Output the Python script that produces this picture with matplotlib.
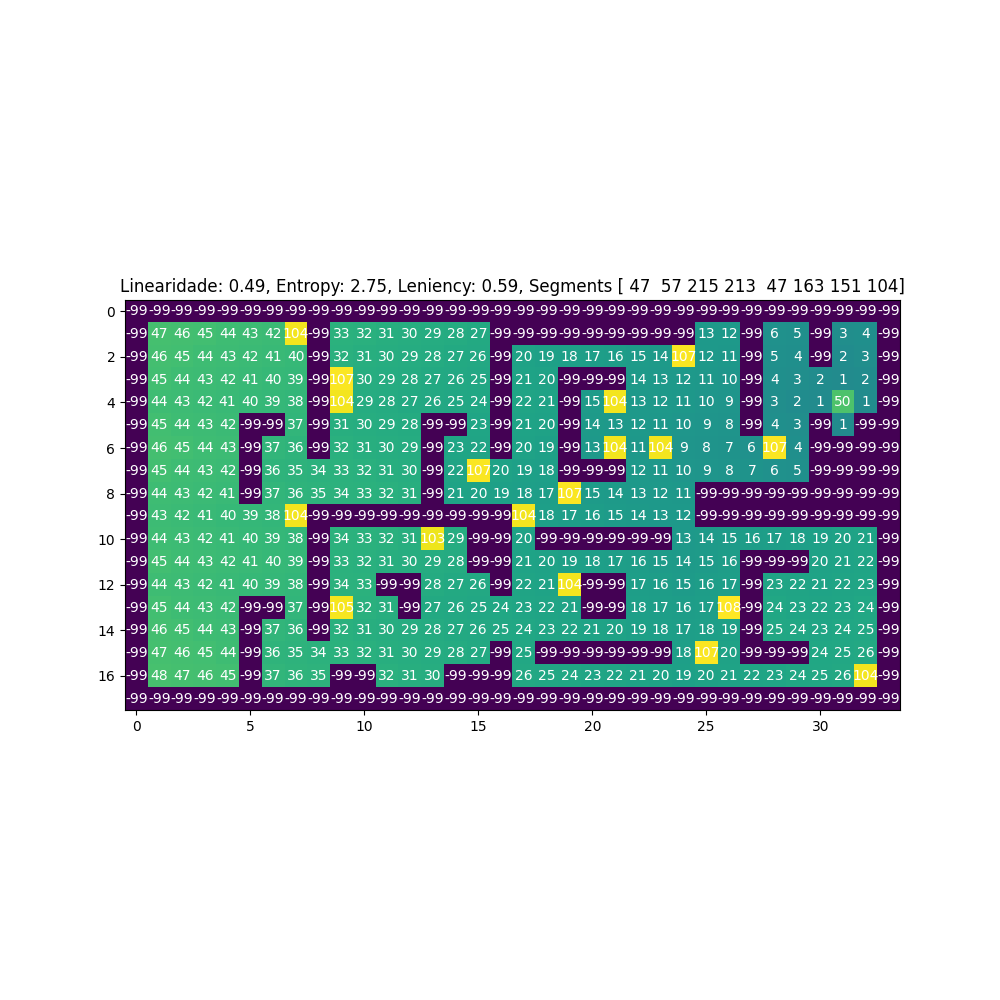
import numpy as np
import matplotlib
matplotlib.use("Agg")
import matplotlib.pyplot as plt

W = -99
row0 = [W] * 34
row1 = [W, 47, 46, 45, 44, 43, 42, 104, W, 33, 32, 31, 30, 29, 28, 27, W, W, W, W, W, W, W, W, W, 13, 12, W, 6, 5, W, 3, 4, W]
row2 = [W, 46, 45, 44, 43, 42, 41, 40, W, 32, 31, 30, 29, 28, 27, 26, W, 20, 19, 18, 17, 16, 15, 14, 107, 12, 11, W, 5, 4, W, 2, 3, W]
row3 = [W, 45, 44, 43, 42, 41, 40, 39, W, 107, 30, 29, 28, 27, 26, 25, W, 21, 20, W, W, W, 14, 13, 12, 11, 10, W, 4, 3, 2, 1, 2, W]
row4 = [W, 44, 43, 42, 41, 40, 39, 38, W, 104, 29, 28, 27, 26, 25, 24, W, 22, 21, W, 15, 104, 13, 12, 11, 10, 9, W, 3, 2, 1, 50, 1, W]
row5 = [W, 45, 44, 43, 42, W, W, 37, W, 31, 30, 29, 28, W, W, 23, W, 21, 20, W, 14, 13, 12, 11, 10, 9, 8, W, 4, 3, W, 1, W, W]
row6 = [W, 46, 45, 44, 43, W, 37, 36, W, 32, 31, 30, 29, W, 23, 22, W, 20, 19, W, 13, 104, 11, 104, 9, 8, 7, 6, 107, 4, W, W, W, W]
row7 = [W, 45, 44, 43, 42, W, 36, 35, 34, 33, 32, 31, 30, W, 22, 107, 20, 19, 18, W, W, W, 12, 11, 10, 9, 8, 7, 6, 5, W, W, W, W]
row8 = [W, 44, 43, 42, 41, W, 37, 36, 35, 34, 33, 32, 31, W, 21, 20, 19, 18, 17, 107, 15, 14, 13, 12, 11, W, W, W, W, W, W, W, W, W]
row9 = [W, 43, 42, 41, 40, 39, 38, 104, W, W, W, W, W, W, W, W, W, 104, 18, 17, 16, 15, 14, 13, 12, W, W, W, W, W, W, W, W, W]
row10 = [W, 44, 43, 42, 41, 40, 39, 38, W, 34, 33, 32, 31, 103, 29, W, W, 20, W, W, W, W, W, W, 13, 14, 15, 16, 17, 18, 19, 20, 21, W]
row11 = [W, 45, 44, 43, 42, 41, 40, 39, W, 33, 32, 31, 30, 29, 28, W, W, 21, 20, 19, 18, 17, 16, 15, 14, 15, 16, W, W, W, 20, 21, 22, W]
row12 = [W, 44, 43, 42, 41, 40, 39, 38, W, 34, 33, W, W, 28, 27, 26, W, 22, 21, 104, W, W, 17, 16, 15, 16, 17, W, 23, 22, 21, 22, 23, W]
row13 = [W, 45, 44, 43, 42, W, W, 37, W, 105, 32, 31, W, 27, 26, 25, 24, 23, 22, 21, W, W, 18, 17, 16, 17, 108, W, 24, 23, 22, 23, 24, W]
row14 = [W, 46, 45, 44, 43, W, 37, 36, W, 32, 31, 30, 29, 28, 27, 26, 25, 24, 23, 22, 21, 20, 19, 18, 17, 18, 19, W, 25, 24, 23, 24, 25, W]
row15 = [W, 47, 46, 45, 44, W, 36, 35, 34, 33, 32, 31, 30, 29, 28, 27, W, 25, W, W, W, W, W, W, 18, 107, 20, W, W, W, 24, 25, 26, W]
row16 = [W, 48, 47, 46, 45, W, 37, 36, 35, W, W, 32, 31, 30, W, W, W, 26, 25, 24, 23, 22, 21, 20, 19, 20, 21, 22, 23, 24, 25, 26, 104, W]
row17 = [W] * 34

rows = [row0, row1, row2, row3, row4, row5, row6, row7, row8, row9,
        row10, row11, row12, row13, row14, row15, row16, row17]

linearity = 0.49
entropy = 2.75
leniency = 0.59
segments = np.array([47, 57, 215, 213, 47, 163, 151, 104])

grid = np.array(rows)

fig, ax = plt.subplots(figsize=(10, 10), dpi=100)
ax.imshow(grid, cmap="viridis")
for i in range(grid.shape[0]):
    for j in range(grid.shape[1]):
        ax.text(j, i, str(grid[i, j]), ha="center", va="center", color="w")
ax.set_title(f"Linearidade: {linearity}, Entropy: {entropy}, Leniency: {leniency}, Segments {segments}")
fig.savefig("out.png")
